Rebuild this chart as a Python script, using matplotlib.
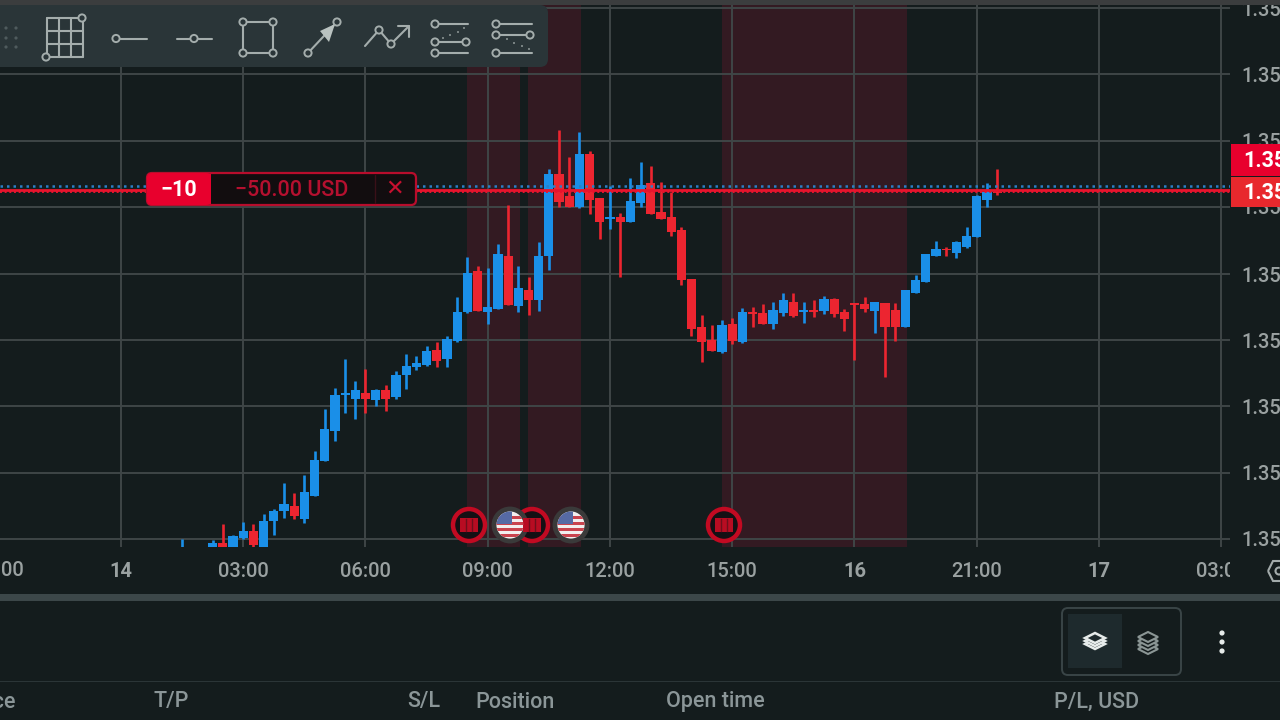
import matplotlib
matplotlib.use('Agg')
import numpy as np
import matplotlib.pyplot as plt
from matplotlib.patches import Rectangle, Circle, FancyBboxPatch, Polygon

plt.rcParams['font.family'] = ['Roboto', 'DejaVu Sans']

# candle data, 15 minute candles. times are hours after the start of the 14th,
# prices are in points (0.00001) above 1.35000
times = [1.5, 2.25, 2.5, 2.75, 3.0, 3.25, 3.5, 3.75, 4.0, 4.25, 4.5, 4.75, 5.0, 5.25, 5.5, 5.75,
         6.0, 6.25, 6.5, 6.75, 7.0, 7.25, 7.5, 7.75, 8.0, 8.25, 8.5, 8.75, 9.0, 9.25, 9.5, 9.75,
         10.0, 10.25, 10.5, 10.75, 11.0, 11.25, 11.5, 11.75, 12.0, 12.25, 12.5, 12.75, 13.0, 13.25, 13.5, 13.75,
         14.0, 14.25, 14.5, 14.75, 15.0, 15.25, 15.5, 15.75, 16.0, 16.25, 16.5, 16.75, 17.0, 17.25, 17.5, 17.75,
         18.0, 18.25, 18.5, 18.75, 19.0, 19.25, 19.5, 19.75, 20.0, 20.25, 20.5, 20.75, 21.0, 21.25, 21.5]
opens = [-14, -8, -4, -8, 1, 8, -8, 18, 28, 33, 20, 43, 78, 108, 144, 140,
         146, 139, 149, 142, 164, 172, 174, 189, 180, 198, 227, 268, 227, 230, 283, 233,
         249, 239, 283, 365, 343, 332, 385, 341, 320, 322, 317, 336, 356, 327, 322, 309,
         260, 212, 199, 187, 215, 197, 227, 226, 215, 226, 237, 227, 229, 228, 240, 227,
         236, 235, 228, 236, 229, 212, 246, 257, 283, 290, 286, 292, 302, 339, 347]
highs = [0, -1, 15, 4, 17, 15, 25, 30, 56, 46, 64, 88, 130, 151, 180, 158,
         170, 150, 154, 168, 185, 183, 193, 197, 203, 242, 282, 273, 271, 295, 334, 273,
         262, 297, 370, 409, 382, 407, 388, 341, 353, 326, 361, 377, 373, 357, 347, 312,
         260, 224, 214, 219, 221, 231, 232, 235, 237, 246, 246, 237, 239, 243, 241, 230,
         236, 242, 237, 236, 236, 249, 264, 285, 298, 292, 298, 312, 344, 356, 370]
lows = [-16, -10, -10, -10, 0, -8, -8, 4, 21, 20, 16, 43, 78, 98, 126, 120,
        126, 133, 128, 140, 150, 169, 173, 172, 172, 197, 226, 228, 215, 230, 234, 227,
        224, 228, 269, 332, 332, 331, 325, 300, 310, 262, 317, 332, 325, 320, 303, 254,
        203, 177, 188, 186, 195, 196, 212, 215, 210, 223, 222, 216, 222, 225, 222, 208,
        179, 227, 206, 162, 198, 212, 246, 257, 283, 283, 281, 291, 302, 332, 344]
closes = [-8, -4, -8, 3, 8, -6, 18, 28, 35, 23, 47, 79, 110, 144, 146, 149,
          140, 149, 140, 164, 173, 176, 188, 178, 200, 227, 266, 228, 232, 285, 234, 251,
          239, 283, 365, 337, 332, 385, 339, 317, 322, 317, 338, 354, 325, 320, 307, 259,
          210, 197, 188, 214, 198, 227, 225, 215, 229, 239, 223, 229, 227, 240, 225, 220,
          234, 230, 237, 212, 212, 249, 259, 285, 290, 289, 297, 303, 343, 347, 346]

hour_ticks = [0, 3, 6, 9, 12, 15, 18, 21, 24, 27]
hour_labels = ['14', '03:00', '06:00', '09:00', '12:00', '15:00', '16', '21:00', '17', '03:00']
price_ticks = [0, 66, 133, 199, 265, 332, 398, 465, 531]
price_labels = ['1.35'] * len(price_ticks)
event_bands = [(8.49, 9.79), (9.99, 11.29), (14.75, 19.29)]
blue_line = 353
red_line = 349

bg = '#141c1d'
grid = '#3f4647'
tick_col = '#9aa1a1'
blue = '#1a8fe8'
red = '#ec2530'
pink = '#331a22'

fig = plt.figure(figsize=(12.8, 7.2), dpi=100, facecolor=bg)

# main chart
ax = fig.add_axes([0, (720 - 547) / 720, 1230 / 1280, 547 / 720], facecolor=bg)
ax.set_xlim(-121 / 40.75, (1230 - 121) / 40.75)
ax.set_ylim(-8, 539)

for start, end in event_bands:
    ax.axvspan(start, end, color=pink, lw=0, zorder=0.2)
ax.set_xticks(hour_ticks)
ax.set_xticklabels(hour_labels, fontsize=14.5, color=tick_col, fontweight='medium')
for lab in ax.get_xticklabels():
    if lab.get_text() in ('14', '16', '17'):
        lab.set_fontweight('bold')
ax.set_yticks(price_ticks)
ax.set_yticklabels(price_labels, fontsize=14.5, color=tick_col, fontweight='medium')
ax.yaxis.tick_right()
ax.tick_params(axis='both', length=0)
ax.tick_params(axis='x', pad=11)
ax.tick_params(axis='y', pad=8)
ax.grid(True, color=grid, lw=1.4)
ax.set_axisbelow(True)
for s in ax.spines.values():
    s.set_visible(False)
# part of the 00:00 label left of the view
ax.text(-3.02, -22.5, '00:00', fontsize=14.5, color=tick_col, fontweight='medium', ha='center', va='top',
        clip_on=False)

for t, o, h, l, c in zip(times, opens, highs, lows, closes):
    col = blue if c >= o else red
    ax.vlines(t, l, h, color=col, lw=1.9, zorder=3)
    ax.bar(t, abs(c - o), bottom=min(o, c), width=0.225, color=col, lw=0, zorder=4)

ax.axhline(blue_line, color='#2b7fc6', lw=1.8, ls=(0, (1, 1.6)), zorder=5)
ax.axhline(red_line, color='#e8142d', lw=2, zorder=5)
ax.axhline(red_line - 2, color='#e8142d', lw=1.4, ls=(0, (1, 1.4)), zorder=5)

# everything around the chart is drawn in pixel coordinates
ui = fig.add_axes([0, 0, 1, 1], facecolor='none', zorder=5)
ui.set_xlim(0, 1280)
ui.set_ylim(720, 0)
ui.axis('off')


def rbox(x0, y0, x1, y1, r, **kw):
    p = FancyBboxPatch((x0 + r, y0 + r), x1 - x0 - 2 * r, y1 - y0 - 2 * r,
                       boxstyle='round,pad=%f,rounding_size=%f' % (r, r), **kw)
    ui.add_patch(p)
    return p


def line(xs, ys, col='#a4adac', lw=1.5):
    ui.plot(xs, ys, color=col, lw=lw, solid_capstyle='round', zorder=12)


def dot(x, y, r=3.6, col='#a4adac', fc='#2a3538'):
    ui.add_patch(Circle((x, y), r, fc=fc, ec=col, lw=1.4, zorder=13))


# top strip, clipped axis labels
ui.add_patch(Rectangle((0, 0), 1280, 5, color='#3b3d3e', lw=0, zorder=6))
ui.add_patch(Rectangle((1230, 552), 40, 34, color=bg, lw=0, zorder=6))

# toolbar
rbox(-20, 5, 548, 67, 8, fc='#2a3538', ec='none', zorder=10)
for x in (6, 16):
    for y in (28, 38, 47):
        ui.add_patch(Circle((x, y), 1.6, color='#4f5b5d', lw=0, zorder=12))
for x in (47, 59, 71, 83):
    line([x, x], [18, 57])
for y in (18, 31, 44, 57):
    line([47, 83], [y, y])
dot(82, 18)
dot(46, 57)
line([116, 147], [38.5, 38.5])
dot(116, 38.5)
line([177, 212], [38.5, 38.5])
dot(194, 38.5)
line([243, 273, 273, 243, 243], [22, 22, 53, 53, 22])
for x, y in [(243, 22), (273, 22), (243, 53), (273, 53)]:
    dot(x, y)
line([308, 337], [53, 22])
ui.add_patch(Polygon([[335, 24], [320, 31], [329, 42]], fc='#b9c2c0', ec='none', zorder=12))
dot(308, 53)
dot(337, 22)
line([365, 379, 391, 409], [46, 30, 44, 26])
line([398, 409, 409], [26, 26, 37])
dot(379, 30)
dot(391, 44)
line([435, 468], [24, 24])
line([435, 466], [42, 42])
line([435, 468], [53, 53])
dot(435, 24)
dot(435, 42)
dot(466, 42)
dot(435, 53)
for x, y in [(443, 38), (450, 35), (458, 32), (464, 28)]:
    ui.add_patch(Circle((x, y), 0.9, color='#a4adac', lw=0, zorder=12))
line([496, 532], [24, 24])
line([496, 530], [35, 35])
line([496, 532], [53, 53])
dot(496, 24)
dot(496, 35)
dot(530, 35)
dot(496, 53)
for x, y in [(507, 39), (514, 43), (522, 46), (529, 49)]:
    ui.add_patch(Circle((x, y), 0.9, color='#a4adac', lw=0, zorder=12))

# position pill
rbox(147, 173, 416, 205, 5, fc='#120d0f', ec='#b80d2c', lw=1.6, zorder=10)
rbox(147, 173, 211, 205, 5, fc='#e8002d', ec='none', zorder=11)
ui.add_patch(Rectangle((200, 174), 11, 30, color='#e8002d', lw=0, zorder=11))
line([375, 375], [175, 203], col='#3a1018', lw=1)
ui.text(179, 190, '−10', color='white', fontsize=15.5, fontweight='bold', ha='center', va='center', zorder=13)
ui.text(292, 190, '−50.00 USD', color='#b5102f', fontsize=15.5, fontweight='medium', ha='center', va='center', zorder=13)
ui.text(395, 189, '✕', color='#c8102f', fontsize=16, fontweight='bold', ha='center', va='center',
        family=['DejaVu Sans'], zorder=13)

# price tags
ui.add_patch(Rectangle((1231, 144), 49, 32, color='#e8002d', lw=0, zorder=10))
ui.add_patch(Rectangle((1231, 177), 49, 30, color='#e8282d', lw=0, zorder=10))
ui.text(1243, 161, '1.35', color='white', fontsize=15.5, fontweight='bold', va='center', zorder=11)
ui.text(1243, 193, '1.35', color='white', fontsize=15.5, fontweight='bold', va='center', zorder=11)


# event markers
def uk_marker(x, y):
    ui.add_patch(Circle((x, y), 16, fc='#141014', ec='#c20a22', lw=3.2, zorder=14))
    ui.add_patch(Rectangle((x - 9, y - 7), 18, 14, color='#b80c22', lw=0, zorder=15))
    for dx in (-3, 3):
        ui.plot([x + dx, x + dx], [y - 6, y + 6], color='#6e0f1c', lw=1, zorder=16)


def us_marker(x, y):
    c = Circle((x, y), 16, fc='#f2eeee', ec='#3a3a3a', lw=3.5, zorder=14)
    ui.add_patch(c)
    clip = Circle((x, y), 13.5, transform=ui.transData)
    for i in range(4):
        r = Rectangle((x - 15, y - 9 + i * 6), 30, 3, color='#c9434e', lw=0, zorder=15)
        ui.add_patch(r)
        r.set_clip_path(clip)
    r = Rectangle((x - 15, y - 15), 17, 14, color='#566aa4', lw=0, zorder=16)
    ui.add_patch(r)
    r.set_clip_path(clip)


uk_marker(532, 525)
uk_marker(469, 525)
us_marker(510, 525)
us_marker(571, 525)
uk_marker(724, 525)

# gear in the corner
ui.add_patch(Polygon([[1268, 571], [1273, 561], [1284, 561], [1289, 571], [1284, 581], [1273, 581]],
                     fc='none', ec='#a3abab', lw=1.5, zorder=10))
ui.add_patch(Circle((1279, 571), 3.5, fc='none', ec='#a3abab', lw=1.5, zorder=10))

# bottom panel
ui.add_patch(Rectangle((0, 594), 1280, 7, color='#3c4749', lw=0, zorder=8))
ui.add_patch(Rectangle((0, 680.5), 1280, 1.5, color='#2b3537', lw=0, zorder=8))
rbox(1062, 608, 1181, 675, 6, fc='none', ec='#3a4547', lw=1.4, zorder=9)
ui.add_patch(Rectangle((1068, 614), 54, 54, color='#1e2a2d', lw=0, zorder=9))
for y in (644, 641, 638):
    ui.add_patch(Polygon([[1085, y], [1095, y - 5], [1105, y], [1095, y + 5]], fc='#1e2a2d', ec='#e6ebea', lw=1.8, zorder=10))
for y in (649, 645, 641, 637):
    ui.add_patch(Polygon([[1138, y], [1148, y - 5], [1158, y], [1148, y + 5]], fc='#141c1d', ec='#8b9695', lw=1.5, zorder=10))
for y in (633, 642, 651):
    ui.add_patch(Circle((1222, y), 2.6, color='#e6ebea', lw=0, zorder=10))

header_x = [153, 407, 475, 666, 1054]
header_labels = ['T/P', 'S/L', 'Position', 'Open time', 'P/L, USD']
ui.text(16, 702, 'Price', color='#8b9698', fontsize=15.5, fontweight='medium', ha='right', va='center', zorder=10)
for x, lab in zip(header_x, header_labels):
    ui.text(x, 702, lab, color='#8b9698', fontsize=15.5, fontweight='medium', va='center', zorder=10)

fig.savefig('out.png', dpi=100, facecolor=bg)
